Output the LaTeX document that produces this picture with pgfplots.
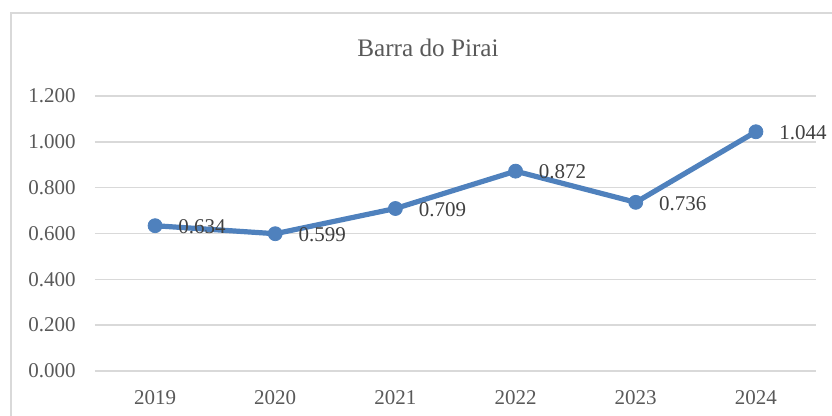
\documentclass[border=0pt]{standalone}
\usepackage{fontspec}
\setmainfont{Liberation Serif}
\usepackage{pgfplots}
\pgfplotsset{compat=1.18}
\definecolor{linblue}{RGB}{79,129,189}
\definecolor{txtgray}{RGB}{89,89,89}
\definecolor{lblgray}{RGB}{64,64,64}
\definecolor{gridgray}{RGB}{217,217,217}

\begin{document}
\begin{tikzpicture}
\useasboundingbox (0,0) rectangle (416pt,208pt);
% chart frame (only left and top edges visible in the crop)
\draw[gridgray, line width=0.75pt] (5.5pt,-2pt) -- (5.5pt,201.5pt) -- (420pt,201.5pt);
\node[anchor=base, text=txtgray, font=\fontsize{12.6}{14}\selectfont] at (214pt,179.5pt) {Barra do Pirai};
\begin{axis}[
  at={(47.5pt,22.5pt)}, anchor=south west,
  scale only axis, width=360.5pt, height=137.5pt,
  xmin=-0.5, xmax=5.5, ymin=0, ymax=1.2,
  xtick=data, xticklabels={2019,2020,2021,2022,2023,2024},
  ytick={0,0.2,...,1.2},
  yticklabel={\pgfmathprintnumber[fixed,fixed zerofill,precision=3,assume math mode=true]{\tick}},
  axis line style={draw=none},
  major tick length=0pt,
  ymajorgrids, grid style={gridgray, line width=0.75pt},
  tick label style={text=txtgray, font=\fontsize{10.5}{12}\selectfont},
  yticklabel style={inner sep=0pt, anchor=east, xshift=-9.5pt},
  xticklabel style={inner sep=0pt, anchor=north, yshift=-9.5pt},
  clip=false,
  nodes near coords={\pgfmathprintnumber[fixed,fixed zerofill,precision=3,assume math mode=true]{\pgfplotspointmeta}},
  every node near coord/.append style={anchor=west, inner sep=0pt, xshift=11.5pt, yshift=-0.5pt, text=lblgray, font=\fontsize{10.5}{12}\selectfont},
]
\addplot[color=linblue, line width=2.6pt, mark=*, mark size=3.5pt, mark options={fill=linblue, draw=linblue, line width=0.4pt}]
  coordinates {(0,0.634) (1,0.599) (2,0.709) (3,0.872) (4,0.736) (5,1.044)};
\end{axis}
\end{tikzpicture}
\end{document}
